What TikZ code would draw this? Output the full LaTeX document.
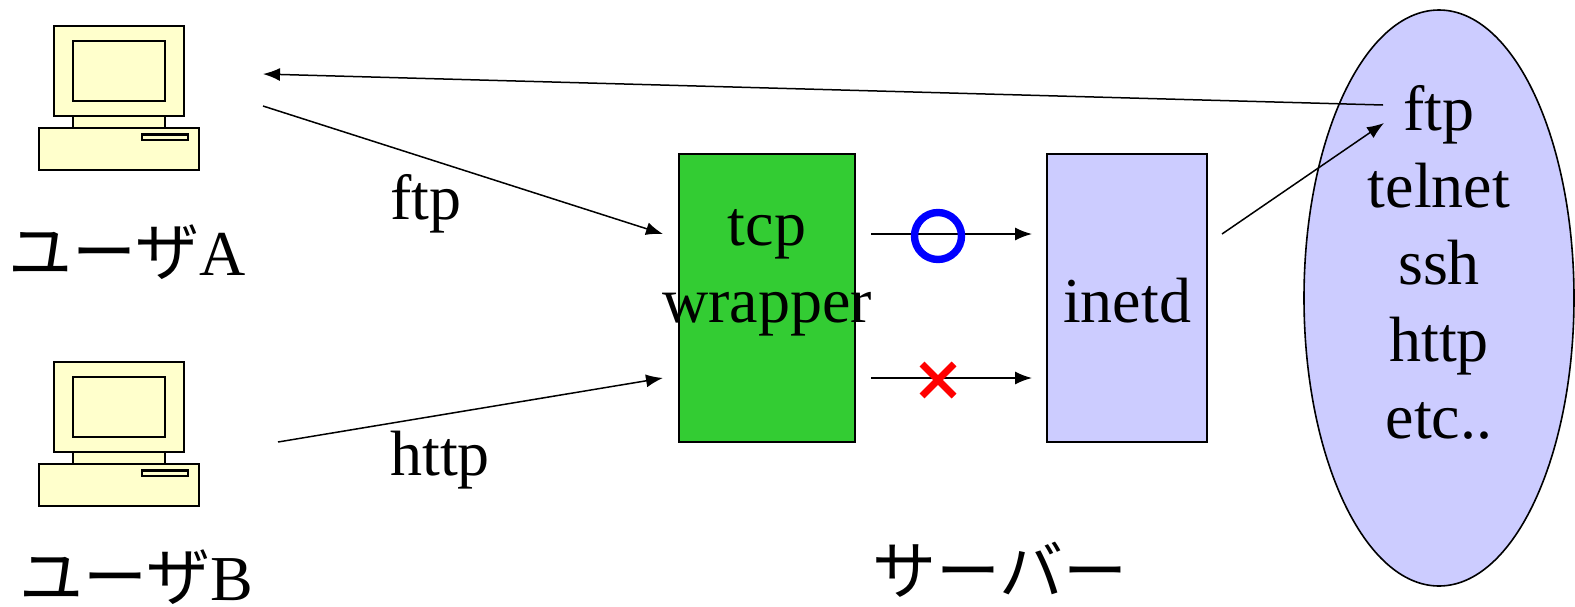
\documentclass[tikz,border=0pt]{standalone}
\usepackage{fontspec}
\setmainfont{Liberation Serif}
\newfontfamily\cjk{Noto Sans CJK JP}
\usetikzlibrary{arrows.meta, shapes.geometric}
\definecolor{MonitorYellow}{RGB}{255, 255, 204}
\definecolor{WrapperGreen}{RGB}{51, 204, 51}
\definecolor{ServiceBlue}{RGB}{204, 204, 255}
\tikzset{
	conn/.style={-{Latex[length=8.5pt,width=6.5pt]}, line width=0.75pt},
	lbl/.style={anchor=base, inner sep=0pt, font=\fontsize{32}{38}\selectfont},
	boxpart/.style={draw, fill=MonitorYellow, line width=1.1pt},
	computer/.pic={
		\draw[boxpart] (54,26) rectangle (184,116);
		\draw[boxpart] (73,41) rectangle (165,101);
		\draw[boxpart] (73,116) rectangle (165,128);
		\draw[boxpart] (39,128) rectangle (199,170);
		\draw[boxpart] (142,134.5) rectangle (188,140);
	}
}

\begin{document}
\begin{tikzpicture}[x=0.5pt, y=-0.5pt]
		\useasboundingbox (0,0) rectangle (1575,606);
		\pic at (0,0) {computer};
		\pic at (0,336) {computer};
		\node[lbl] (userA) at (127,275) {{\cjk ユーザ}A};
		\node[lbl] (userB) at (136,600) {{\cjk ユーザ}B};
		\node[draw, fill=WrapperGreen, line width=0.8pt, minimum width=88pt, minimum height=144pt, inner sep=0pt] (wrapper) at (767,298) {};
		\node[draw, fill=ServiceBlue, line width=0.8pt, minimum width=80pt, minimum height=144pt, inner sep=0pt] (inetd) at (1127,298) {};
		\node[draw, fill=ServiceBlue, ellipse, line width=0.8pt, minimum width=135pt, minimum height=288pt, inner sep=0pt] (services) at (1439,298) {};
		\node[lbl] (tcp) at (767,245) {tcp};
		\node[lbl] (wrap) at (767,322) {wrapper};
		\node[lbl] (inetdtxt) at (1127,322) {inetd};
		\node[lbl] (ftp) at (1439,130) {ftp};
		\node[lbl] (telnet) at (1439,207) {telnet};
		\node[lbl] (ssh) at (1439,284) {ssh};
		\node[lbl] (http) at (1439,361) {http};
		\node[lbl] (etc) at (1439,438) {etc..};
		\node[lbl] (ftplabel) at (426,219) {ftp};
		\node[lbl] (httplabel) at (440,475) {http};
		\node[lbl] (server) at (1000,594) {{\cjk サーバー}};
		\coordinate (A1) at (263,74);
		\coordinate (A2) at (263,106);
		\coordinate (B1) at (278,442);
		\coordinate (W1) at (663,234);
		\coordinate (W2) at (663,378);
		\coordinate (F1) at (1383,105);
		\coordinate (F2) at (1384,123);
		\coordinate (I0) at (1222,234);
		\coordinate (OK1) at (871,234);
		\coordinate (OK2) at (1032,234);
		\coordinate (NG1) at (871,378);
		\coordinate (NG2) at (1032,378);
		\draw[conn] (F1) -- (A1);
		\draw[conn] (A2) -- (W1);
		\draw[conn] (B1) -- (W2);
		\draw[conn] (OK1) -- (OK2);
		\draw[conn] (NG1) -- (NG2);
		\draw[conn] (I0) -- (F2);
		\draw[blue, line width=3.7pt] (938,236) circle (23.5);
		\draw[red, line width=3.4pt] (922,364) -- (954,396) (922,396) -- (954,364);
	\end{tikzpicture}
\end{document}
